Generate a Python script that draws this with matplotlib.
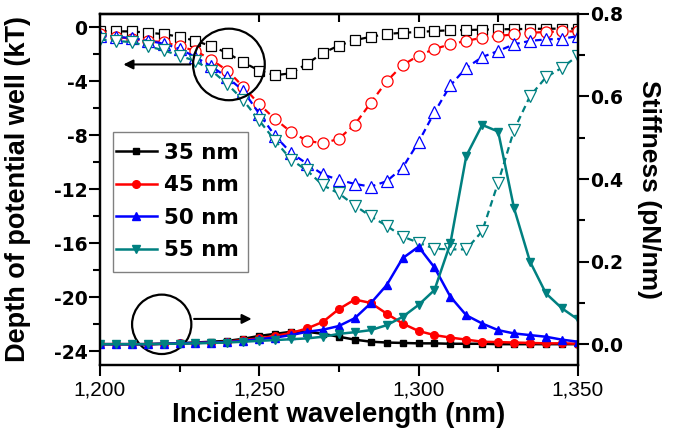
import matplotlib.pyplot as plt
from matplotlib.patches import Ellipse, Rectangle
from matplotlib.ticker import FuncFormatter, MultipleLocator

plt.rcParams['font.family'] = ['Liberation Sans', 'DejaVu Sans']

# wavelength grid (nm)
wl = [1200 + 5 * i for i in range(31)]

# depth of potential well (kT), open markers, dashed
depth_35 = [-0.27, -0.3, -0.3, -0.4, -0.5, -0.7, -1.0, -1.4, -1.9, -2.6, -3.2, -3.55, -3.4, -2.7, -1.9,
            -1.35, -0.95, -0.7, -0.5, -0.4, -0.35, -0.27, -0.22, -0.2, -0.17, -0.15, -0.13, -0.12, -0.1, -0.1, -0.1]
depth_45 = [-0.5, -0.7, -0.85, -1.0, -1.1, -1.4, -1.75, -2.4, -3.2, -4.4, -5.7, -6.8, -7.75, -8.4, -8.6,
            -8.25, -7.2, -5.6, -4.0, -2.8, -2.1, -1.6, -1.26, -1.0, -0.77, -0.64, -0.52, -0.4, -0.35, -0.3, -0.3]
depth_50 = [-0.65, -0.7, -0.8, -1.0, -1.2, -1.6, -2.2, -2.9, -3.7, -4.7, -6.4, -8.05, -9.3, -10.1, -10.9,
            -11.3, -11.6, -11.8, -11.4, -10.4, -8.5, -6.3, -4.3, -3.0, -2.2, -1.75, -1.26, -1.0, -0.9, -0.85, -0.65]
depth_55 = [-0.9, -1.0, -1.1, -1.4, -1.7, -2.1, -2.5, -3.2, -4.2, -5.4, -6.9, -8.4, -9.8, -10.6, -11.7,
            -12.3, -13.2, -14.0, -14.7, -15.5, -15.95, -16.4, -16.45, -16.45, -15.1, -11.5, -7.6, -5.1, -3.7, -3.0, -2.1]

# stiffness (pN/nm), filled markers, solid
stiff_35 = [0.0, 0.0, 0.0, 0.0, 0.001, 0.002, 0.004, 0.006, 0.008, 0.013, 0.02, 0.025, 0.03, 0.03, 0.025,
            0.018, 0.011, 0.006, 0.004, 0.003, 0.002, 0.002, 0.001, 0.001, 0.001, 0.0, 0.0, 0.0, 0.0, 0.0, 0.0]
stiff_45 = [0.0, 0.0, 0.0, 0.0, 0.001, 0.002, 0.003, 0.004, 0.006, 0.01, 0.014, 0.02, 0.027, 0.038, 0.054,
            0.085, 0.108, 0.1, 0.074, 0.05, 0.032, 0.022, 0.016, 0.011, 0.006, 0.005, 0.004, 0.003, 0.002, 0.002, 0.001]
stiff_50 = [0.0, 0.0, 0.0, 0.0, 0.001, 0.002, 0.003, 0.004, 0.005, 0.008, 0.012, 0.016, 0.022, 0.03, 0.035,
            0.044, 0.063, 0.099, 0.143, 0.208, 0.236, 0.186, 0.115, 0.07, 0.05, 0.034, 0.026, 0.022, 0.018, 0.011, 0.006]
stiff_55 = [0.0, 0.0, 0.0, 0.0, 0.001, 0.001, 0.002, 0.003, 0.004, 0.006, 0.008, 0.01, 0.012, 0.014, 0.018,
            0.025, 0.029, 0.034, 0.046, 0.066, 0.095, 0.131, 0.244, 0.456, 0.531, 0.515, 0.329, 0.2, 0.123, 0.087, 0.06]

labels = ["35 nm", "45 nm", "50 nm", "55 nm"]
colors = ["black", "#ff0000", "#0000ff", "#008080"]
markers = ["s", "o", "^", "v"]
depths = [depth_35, depth_45, depth_50, depth_55]
stiffs = [stiff_35, stiff_45, stiff_50, stiff_55]
open_size = [7, 8, 8.5, 8.5]
fill_size = [4.5, 5.5, 6, 6]

fig = plt.figure(figsize=(6.75, 4.46), dpi=100)
ax = fig.add_axes([0.148, 0.182, 0.708, 0.787])
ax2 = ax.twinx()

for d, c, m, ms in zip(depths, colors, markers, open_size):
    ax.plot(wl, d, linestyle=(0, (3, 2)), color=c, lw=1.6, marker=m, ms=ms,
            mfc="white", mec=c, mew=0.9)

handles = []
for s, c, m, ms, lab in zip(stiffs, colors, markers, fill_size, labels):
    h, = ax2.plot(wl, s, "-", color=c, lw=1.8, marker=m, ms=ms, mfc=c, mec=c, label=lab)
    handles.append(h)

ax.set_xlim(1200, 1350)
ax.set_ylim(-25, 1)
ax2.set_ylim(-0.05, 0.8)

ax.xaxis.set_major_locator(MultipleLocator(50))
ax.xaxis.set_minor_locator(MultipleLocator(25))
ax.yaxis.set_major_locator(MultipleLocator(4))
ax.yaxis.set_minor_locator(MultipleLocator(2))
ax2.yaxis.set_major_locator(MultipleLocator(0.2))
ax2.yaxis.set_minor_locator(MultipleLocator(0.1))
ax.xaxis.set_major_formatter(FuncFormatter(lambda v, p: f"{int(v):,}"))
ax.yaxis.set_major_formatter(FuncFormatter(lambda v, p: f"{int(v)}"))
ax2.yaxis.set_major_formatter(FuncFormatter(lambda v, p: f"{v:.1f}"))

for a in (ax, ax2):
    for sp in a.spines.values():
        sp.set_linewidth(1.6)
ax.tick_params(axis="both", which="major", direction="out", length=8, width=1.5)
ax.tick_params(axis="both", which="minor", direction="out", length=5, width=1.5)
ax2.tick_params(axis="y", which="major", direction="out", length=8, width=1.5)
ax2.tick_params(axis="y", which="minor", direction="out", length=5, width=1.5)
ax.tick_params(axis="x", labelsize=15, pad=3)
ax.tick_params(axis="y", pad=1)
ax2.tick_params(axis="y", pad=1)
for t in ax.get_yticklabels() + ax2.get_yticklabels():
    t.set_fontfamily("DejaVu Sans")
    t.set_fontweight("bold")
    t.set_fontsize(13.5)

# top ticks pointing inward
top = ax.secondary_xaxis("top")
top.set_xticks([1250, 1275, 1300, 1325])
top.tick_params(direction="in", length=6, width=1.5, labeltop=False)
top.spines["top"].set_linewidth(1.6)

ax.set_xlabel("Incident wavelength (nm)", fontsize=20, fontweight="bold", labelpad=2)
ax.set_ylabel("Depth of potential well (kT)", fontsize=19.5, fontweight="bold", labelpad=16)
ax2.set_ylabel("Stiffness (pN/nm)", fontsize=19, fontweight="bold", rotation=270, labelpad=27)

# legend: frame drawn separately so it can have more vertical than horizontal padding
ax2.add_patch(Rectangle((113 / 675, 1 - 272 / 446), 135 / 675, 140 / 446,
                        transform=fig.transFigure, facecolor="white",
                        edgecolor="gray", lw=1.0, zorder=4, clip_on=False))
leg = ax2.legend(handles=handles, loc="upper left", bbox_to_anchor=(116 / 675, 1 - 143 / 446),
                 bbox_transform=fig.transFigure,
                 prop={"family": "DejaVu Sans", "size": 15.5, "weight": "bold"},
                 frameon=False, handlelength=1.9, handletextpad=0.35,
                 labelspacing=0.58, borderpad=0, borderaxespad=0)
leg.set_zorder(6)

# circles and arrows pointing to the relevant axis
ax.add_patch(Ellipse((1240.5, -2.75), 22.5, 5.3, fill=False, color="black", lw=1.6, zorder=5))
ax.annotate("", xy=(1206.5, -2.75), xytext=(1229.3, -2.75),
            arrowprops=dict(arrowstyle="-|>", color="black", lw=1.5, mutation_scale=14))
ax.add_patch(Ellipse((1219.4, -22.0), 18.6, 4.4, fill=False, color="black", lw=1.6, zorder=5))
ax.annotate("", xy=(1248.5, -21.6), xytext=(1228.7, -21.6),
            arrowprops=dict(arrowstyle="-|>", color="black", lw=1.5, mutation_scale=14))

fig.savefig("out.png", dpi=100)
